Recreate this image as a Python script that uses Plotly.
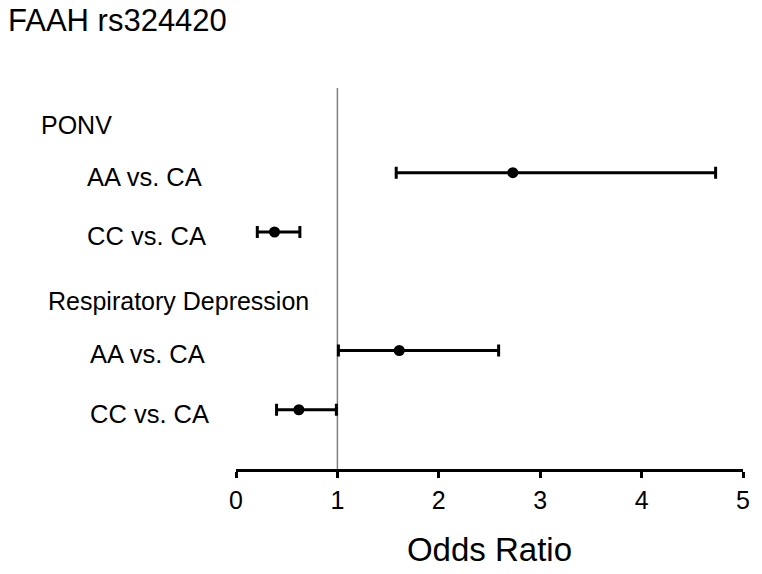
import plotly.graph_objects as go

# ---- data ----
row_labels = ["AA vs. CA", "CC vs. CA", "AA vs. CA", "CC vs. CA"]
row_pos = [1, 2, 4, 5]
odds_ratio = [2.73, 0.38, 1.61, 0.62]
ci_low = [1.58, 0.21, 1.01, 0.40]
ci_high = [4.73, 0.63, 2.59, 0.99]
group_labels = ["PONV", "Respiratory Depression"]
group_pos = [0.19, 3.16]
x_ticks = [0, 1, 2, 3, 4, 5]

FONT = "Liberation Sans, Arial, sans-serif"
L, R = 236, 15
PW = 762 - L - R


def px2paper(px):
    return (px - L) / PW


group_px = [37, 44]
row_center_px = [144, 146, 147, 149]

fig = go.Figure()
fig.add_trace(go.Scatter(
    x=odds_ratio, y=row_pos, mode="markers",
    marker=dict(color="black", size=11),
    error_x=dict(type="data", symmetric=False,
                 array=[h - o for h, o in zip(ci_high, odds_ratio)],
                 arrayminus=[o - l for o, l in zip(odds_ratio, ci_low)],
                 color="black", thickness=3, width=6),
    showlegend=False, hoverinfo="x",
))

# reference line at OR = 1
fig.add_shape(type="line", xref="x", yref="paper", x0=1, x1=1, y0=0, y1=1,
              line=dict(color="#7f7f7f", width=1.5), layer="below")

for lab, y, cx in zip(row_labels, row_pos, row_center_px):
    fig.add_annotation(x=px2paper(cx), y=y, xref="paper", yref="y", text=lab, showarrow=False,
                       xanchor="center", yanchor="middle", yshift=-4,
                       font=dict(family=FONT, size=25.5, color="black"))
for lab, y, gx in zip(group_labels, group_pos, group_px):
    fig.add_annotation(x=px2paper(gx), y=y, xref="paper", yref="y", text=lab, showarrow=False,
                       xanchor="left", yanchor="middle",
                       font=dict(family=FONT, size=25, color="black"))

fig.update_layout(
    width=762, height=574,
    margin=dict(l=L, r=R, t=88, b=104),
    paper_bgcolor="white", plot_bgcolor="white",
    title=dict(text="FAAH rs324420", x=8/762, xanchor="left", y=1-20/574, yanchor="middle",
               font=dict(family=FONT, size=31, color="black")),
    xaxis=dict(range=[0, 5], tickvals=x_ticks, showgrid=False, zeroline=False,
               showline=True, linecolor="black", linewidth=3,
               ticks="outside", ticklen=6, tickwidth=2.5, tickcolor="black",
               tickfont=dict(family=FONT, size=25, color="black"),
               ticklabelstandoff=1,
               title=dict(text="Odds Ratio", standoff=25,
                          font=dict(family=FONT, size=33, color="black"))),
    yaxis=dict(range=[6.0, -0.43], visible=False, showgrid=False, zeroline=False),
)

fig.write_html("out.html", config={"displayModeBar": False},
               post_script="document.body.style.margin='0';document.body.style.padding='0';")
